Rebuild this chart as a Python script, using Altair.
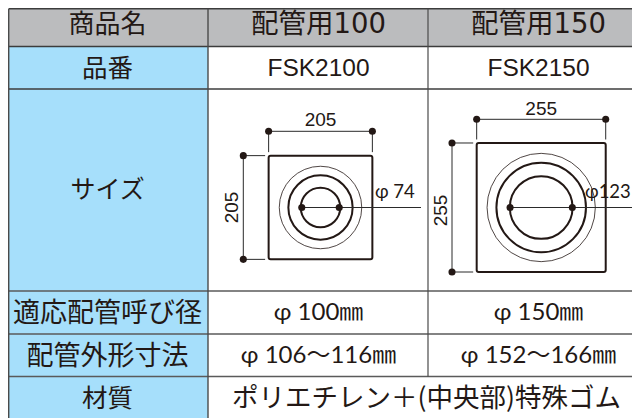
import altair as alt
import pandas as pd

# ---- table content ----
COL_HEADERS = ["商品名", "配管用100", "配管用150"]
ROW_LABELS = ["品番", "サイズ", "適応配管呼び径", "配管外形寸法", "材質"]
PART_NUMBERS = ["FSK2100", "FSK2150"]
NOMINAL = ["φ 100㎜", "φ 150㎜"]
OUTER = ["φ 106〜116㎜", "φ 152〜166㎜"]
MATERIAL = "ポリエチレン＋(中央部)特殊ゴム"
HOLE_LABELS = ["φ 74", "φ123"]

# ---- drawing dimensions (mm) ----
SQUARE_MM = [205, 255]
HOLE_MM = [74, 123]
RING_OUTER_MM = [163, 214]
RING_MID_MM = [127, 177]
RING_INNER_MM = [78, 124]

# ---- layout (pixels of the 640x418 picture) ----
PX_PER_MM = 0.506
X_EDGES = [8.7, 208, 428, 633]
Y_EDGES = [8.7, 46.5, 89, 291, 334, 376.5, 420]
COL_CX = [107.5, 318.5, 538.5]
ROW_CY = [24.7, 69, 190, 313.5, 356.5, 399]
DRAW_CX = [320.5, 541.2]
DRAW_CY = 207.5
TOP_DIM_Y = [131.3, 119.3]
LEFT_DIM_X = [243.3, 452]
EXT_GAP = 3.5
LINE_END_X = [421, 633]
DIM_TOP_LABEL_Y = [120, 108.5]
DIM_LEFT_LABEL_X = [232, 441]
HOLE_LABEL_X = [375, 585]
HOLE_LABEL_Y = 192

INK = "#231815"
GRID = "#4a4a4a"
GREY = "#bbbcbe"
BLUE = "#a6dffb"
CJK = "Noto Sans CJK JP"
LATIN = "Liberation Sans, Noto Sans CJK JP"
WIDE = "DejaVu Sans, Noto Sans CJK JP"
PHI = "Lato, Noto Sans CJK JP"

sx = alt.Scale(domain=[8, 632], range=[0, 624], nice=False, zero=False)
sy = alt.Scale(domain=[8, 418], range=[0, 410], nice=False, zero=False)
X = alt.X("x:Q", scale=sx, axis=None)
X2 = alt.X2("x2:Q")
Y = alt.Y("y:Q", scale=sy, axis=None)
Y2 = alt.Y2("y2:Q")

# cells
cells = pd.DataFrame([
    {"x": X_EDGES[0], "x2": X_EDGES[3], "y": Y_EDGES[0], "y2": Y_EDGES[1], "c": GREY},
    {"x": X_EDGES[0], "x2": X_EDGES[1], "y": Y_EDGES[1], "y2": Y_EDGES[6], "c": BLUE},
])
cell_layer = alt.Chart(cells).mark_rect(strokeWidth=0).encode(
    x=X, x2=X2, y=Y, y2=Y2, color=alt.Color("c:N", scale=None))

# grid lines
grid = []
for i, yy in enumerate(Y_EDGES[:-1]):
    grid.append({"x": X_EDGES[0], "x2": X_EDGES[3], "y": yy, "y2": yy, "w": 1.4 if i < 3 else 1.6,
                 "c": "#3c3c3c" if i < 3 else "#5a5a5a"})
grid.append({"x": X_EDGES[0], "x2": X_EDGES[0], "y": Y_EDGES[0], "y2": 420, "w": 1.4, "c": GRID})
grid.append({"x": X_EDGES[1], "x2": X_EDGES[1], "y": Y_EDGES[0], "y2": 420, "w": 1.4, "c": GRID})
grid.append({"x": X_EDGES[2], "x2": X_EDGES[2], "y": Y_EDGES[0], "y2": Y_EDGES[5], "w": 1.2, "c": GRID})
grid_layer = alt.Chart(pd.DataFrame(grid)).mark_rule().encode(
    x=X, x2=X2, y=Y, y2=Y2,
    color=alt.Color("c:N", scale=None),
    strokeWidth=alt.StrokeWidth("w:Q", scale=None))

# drawings
squares, rules, dots, rings = [], [], [], []
for i in range(2):
    half = SQUARE_MM[i] * PX_PER_MM / 2
    cx, cy = DRAW_CX[i], DRAW_CY
    squares.append({"x": cx - half, "x2": cx + half, "y": cy - half, "y2": cy + half})
    ty, lx = TOP_DIM_Y[i], LEFT_DIM_X[i]
    rules += [
        {"x": cx - half, "x2": cx + half, "y": ty, "y2": ty},
        {"x": cx - half, "x2": cx - half, "y": ty, "y2": cy - half - EXT_GAP},
        {"x": cx + half, "x2": cx + half, "y": ty, "y2": cy - half - EXT_GAP},
        {"x": lx, "x2": lx, "y": cy - half, "y2": cy + half},
        {"x": lx, "x2": cx - half - EXT_GAP, "y": cy - half, "y2": cy - half},
        {"x": lx, "x2": cx - half - EXT_GAP, "y": cy + half, "y2": cy + half},
        {"x": cx - HOLE_MM[i] * PX_PER_MM / 2, "x2": LINE_END_X[i], "y": cy, "y2": cy},
    ]
    dots += [
        {"x": cx - half, "y": ty}, {"x": cx + half, "y": ty},
        {"x": lx, "y": cy - half}, {"x": lx, "y": cy + half},
        {"x": cx - HOLE_MM[i] * PX_PER_MM / 2, "y": cy},
        {"x": cx + HOLE_MM[i] * PX_PER_MM / 2, "y": cy},
    ]
    for mm, w in ((RING_OUTER_MM[i], 0.8), (RING_MID_MM[i], 2.0), (RING_INNER_MM[i], 2.0)):
        rings.append({"x": cx, "y": cy, "s": (mm * PX_PER_MM) ** 2, "w": w})

square_layer = alt.Chart(pd.DataFrame(squares)).mark_rect(
    fillOpacity=0, stroke=INK, strokeWidth=2.0, cornerRadius=2).encode(x=X, x2=X2, y=Y, y2=Y2)
rule_layer = alt.Chart(pd.DataFrame(rules)).mark_rule(color="#2a2a2a", strokeWidth=1.0).encode(
    x=X, x2=X2, y=Y, y2=Y2)
ring_layer = alt.Chart(pd.DataFrame(rings)).mark_point(filled=False, shape="circle", color=INK, opacity=1).encode(
    x=X, y=Y,
    size=alt.Size("s:Q", scale=None),
    strokeWidth=alt.StrokeWidth("w:Q", scale=None))
dot_layer = alt.Chart(pd.DataFrame(dots)).mark_circle(color=INK, size=50, opacity=1).encode(x=X, y=Y)

# texts
texts = []
def add(t, x, y, size, font, align="center", angle=0):
    texts.append({"t": t, "x": x, "y": y, "size": size, "font": font, "align": align, "angle": angle})

add(COL_HEADERS[0], COL_CX[0], ROW_CY[0], 26, CJK)
add(COL_HEADERS[1], COL_CX[1], ROW_CY[0], 27.5, WIDE)
add(COL_HEADERS[2], COL_CX[2], ROW_CY[0], 27.5, WIDE)
for lab, cy, sz in zip(ROW_LABELS, ROW_CY[1:], [25.5, 25, 27, 27, 25.5]):
    add(lab, COL_CX[0], cy, sz, CJK)
for i in range(2):
    add(PART_NUMBERS[i], COL_CX[i + 1], ROW_CY[1], 24.5, LATIN)
    add(NOMINAL[i], COL_CX[i + 1], ROW_CY[3] - 1, 24, PHI)
    add(OUTER[i], COL_CX[i + 1], ROW_CY[4] - 1, 24, PHI)
    add(str(SQUARE_MM[i]), DRAW_CX[i], DIM_TOP_LABEL_Y[i], 19, LATIN)
    add(str(SQUARE_MM[i]), DIM_LEFT_LABEL_X[i], DRAW_CY + (0 if i == 0 else 3), 19, LATIN, angle=270)
    add(HOLE_LABELS[i], HOLE_LABEL_X[i], HOLE_LABEL_Y, 18.5, PHI, align="left")
add(MATERIAL, 426.5, ROW_CY[5], 26.5, CJK)

tdf = pd.DataFrame(texts)

# one layer per font/size/align/angle
text_layers = []
for (fam, sz, al, ang), part in tdf.groupby(["font", "size", "align", "angle"]):
    text_layers.append(
        alt.Chart(part).mark_text(baseline="middle", align=al, angle=int(ang), color=INK,
                                  font=fam, fontSize=float(sz)).encode(x=X, y=Y, text="t:N")
    )

chart = alt.layer(cell_layer, grid_layer, square_layer, ring_layer, rule_layer, dot_layer, *text_layers).properties(
    width=624, height=410,
    padding=0,
    autosize=alt.AutoSizeParams(type="none"),
).configure_view(stroke=None)

chart.save("out.html", embed_options={"renderer": "svg", "actions": False})
